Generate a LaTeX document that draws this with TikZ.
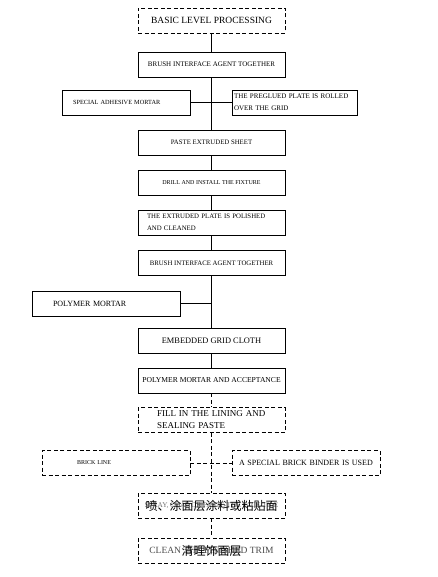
\documentclass[tikz,border=0pt]{standalone}
\usepackage{fontspec}
\setmainfont{Liberation Serif}
\newfontfamily\cjk{Noto Sans CJK SC}

\tikzset{
  stepbox/.style={draw, line width=0.8pt, minimum width=147pt, minimum height=25pt, inner sep=1pt},
  dbox/.style={stepbox, dash pattern=on 4pt off 2.5pt},
  fs/.style={font=\fontsize{#1}{12}\selectfont},
  lpad/.style 2 args={inner xsep=#1, text width=#2, align=left},
  zh/.style={font=\cjk\fontsize{12}{14}\selectfont, text=black, inner sep=0pt},
  link/.style={line width=0.8pt},
  dlink/.style={link, dash pattern=on 4pt off 2.5pt}
}

\begin{document}
\begin{tikzpicture}[x=1pt, y=-1pt]
\useasboundingbox (0,0) rectangle (438,577);

% steps
\node[dbox, fs=9.5] (basic) at (211.5,20.5) {BASIC LEVEL PROCESSING};
\node[stepbox, fs=7] (brush1) at (211.5,64.5) {BRUSH INTERFACE AGENT TOGETHER};
\node[stepbox, fs=6.3, minimum width=128pt, lpad={11pt}{106pt}] (adhesive) at (126,102.5) {SPECIAL ADHESIVE MORTAR};
\node[stepbox, fs=7, minimum width=125pt, lpad={2pt}{121pt}] (pregl) at (294.5,102.5) {THE PREGLUED PLATE IS ROLLED\\OVER THE GRID};
\node[stepbox, fs=6.8] (paste) at (211.5,142.5) {PASTE EXTRUDED SHEET};
\node[stepbox, fs=6] (drill) at (211.5,182.5) {DRILL AND INSTALL THE FIXTURE};
\node[stepbox, fs=6.8, lpad={9pt}{129pt}] (polish) at (211.5,222.5) {THE EXTRUDED PLATE IS POLISHED\\AND CLEANED};
\node[stepbox, fs=6.8] (brush2) at (211.5,263) {BRUSH INTERFACE AGENT TOGETHER};
\node[stepbox, fs=8, minimum width=148pt, lpad={21pt}{106pt}] (polymer) at (106,303.5) {POLYMER MORTAR};
\node[stepbox, fs=8.4] (embed) at (211.5,341) {EMBEDDED GRID CLOTH};
\node[stepbox, fs=7.6] (accept) at (211.5,380.5) {POLYMER MORTAR AND ACCEPTANCE};
\node[dbox, fs=9, lpad={19pt}{109pt}] (fill) at (211.5,420) {FILL IN THE LINING AND\\SEALING PASTE};
\node[dbox, fs=6, minimum width=148pt, lpad={35pt}{78pt}] (brick) at (116,463) {BRICK LINE};
\node[dbox, fs=8, minimum width=148pt, lpad={7pt}{134pt}] (binder) at (306,463) {A SPECIAL BRICK BINDER IS USED};
\node[dbox, fs=7.3, text=black!55, label={[zh]center:喷、涂面层涂料或粘贴面}] (spray) at (211.5,505.5) {SPRAY, COAT OR PASTE THE FACE TILE};
\node[dbox, fs=9.5, text=black!70, label={[zh]center:清理饰面层}] (clean) at (211.5,550.5) {CLEAN THE FINISHED TRIM};

% links
\draw[link] (basic) -- (brush1);
\draw[link] (brush1) -- (paste);
\draw[link] (adhesive) -- (pregl);
\draw[link] (paste) -- (drill);
\draw[link] (drill) -- (polish);
\draw[link] (polish) -- (brush2);
\draw[link] (brush2) -- (embed);
\draw[link] (polymer) -- (polymer -| brush2);
\draw[link] (embed) -- (accept);
\draw[dlink] (accept) -- (fill);
\draw[dlink] (fill) -- (spray);
\draw[dlink] (brick) -- (binder);
\draw[dlink] (spray) -- (clean);

\end{tikzpicture}
\end{document}
